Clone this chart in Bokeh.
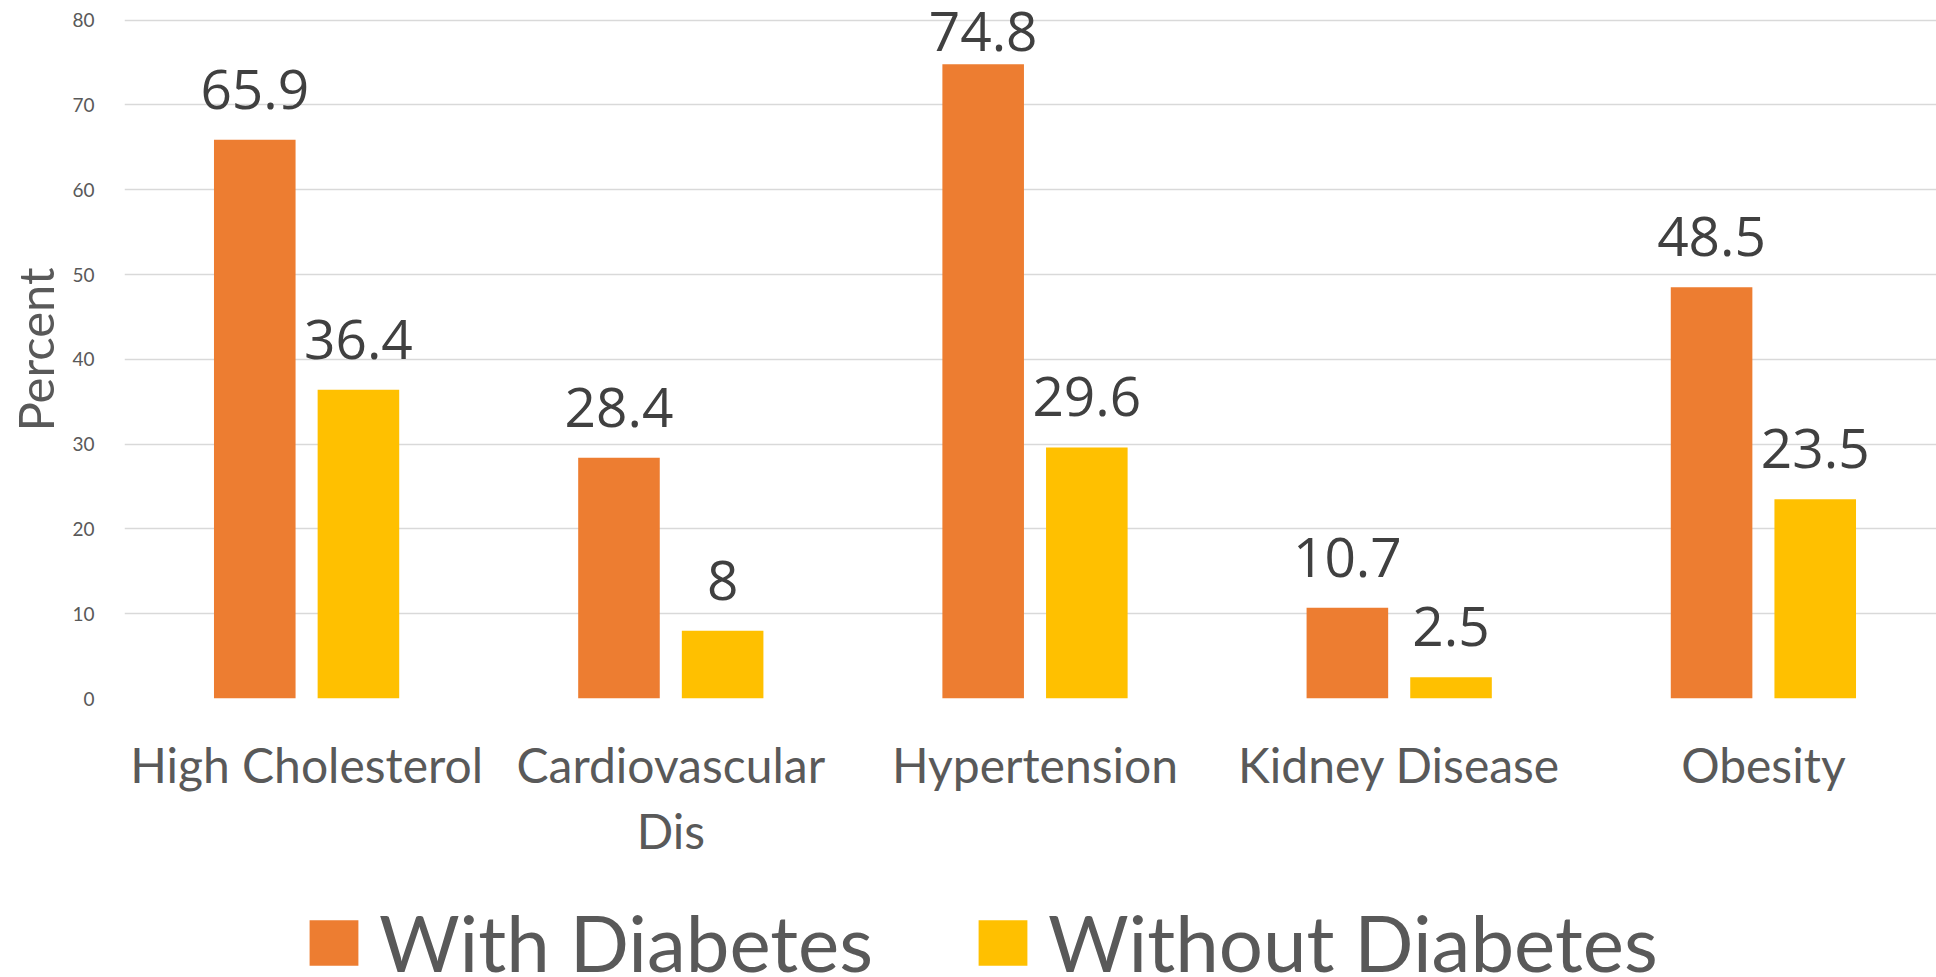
from bokeh.plotting import figure
from bokeh.layouts import column
from bokeh.models import (ColumnDataSource, Range1d, FixedTicker, LabelSet,
                          Legend, LegendItem)
from bokeh.core.properties import value
from bokeh.transform import dodge
from bokeh.embed import file_html
from bokeh.resources import INLINE

# ---- data ----
categories = ["High Cholesterol", "Cardiovascular Dis", "Hypertension",
              "Kidney Disease", "Obesity"]
category_labels = ["High Cholesterol", "Cardiovascular\nDis", "Hypertension",
                   "Kidney Disease", "Obesity"]
with_diabetes = [65.9, 28.4, 74.8, 10.7, 48.5]
without_diabetes = [36.4, 8, 29.6, 2.5, 23.5]
series_names = ["With Diabetes", "Without Diabetes"]
y_ticks = [0, 10, 20, 30, 40, 50, 60, 70, 80]

ORANGE = "#ED7D31"
YELLOW = "#FFC000"
GRAY = "#595959"
DARK = "#404040"

W = 1936
H1 = 870            # main chart
H2 = 107            # legend strip
FRAME_LEFT = 124
FRAME_H = 698
PX_PER_UNIT = 8.48
Y_END = FRAME_H / PX_PER_UNIT
CAT_PX = 364.2

x_end = (W - FRAME_LEFT) / CAT_PX
xs = [i + 0.5 for i in range(len(categories))]

def label_y(vals):
    # label baseline 31px above bar top, but kept inside the chart area
    top_limit = (FRAME_H - 50) / PX_PER_UNIT
    return [min(v + 31 / PX_PER_UNIT, top_limit) for v in vals]

src = ColumnDataSource(dict(
    x=xs,
    w=with_diabetes,
    wo=without_diabetes,
    w_lbl=[f"{v:g}" for v in with_diabetes],
    wo_lbl=[f"{v:g}" for v in without_diabetes],
    w_y=label_y(with_diabetes),
    wo_y=label_y(without_diabetes),
))

p = figure(width=W, height=H1, output_backend="svg", toolbar_location=None,
           x_range=Range1d(0, x_end), y_range=Range1d(0, Y_END),
           min_border_left=FRAME_LEFT, min_border_right=0,
           min_border_top=0, min_border_bottom=H1 - FRAME_H)
p.outline_line_color = None
p.background_fill_color = "white"
p.border_fill_color = "white"

off = 0.1423
bw = 0.224
p.vbar(x=dodge("x", -off), top="w", width=bw, source=src,
       fill_color=ORANGE, line_color=None)
p.vbar(x=dodge("x", off), top="wo", width=bw, source=src,
       fill_color=YELLOW, line_color=None)

for ycol, tcol, dx in [("w_y", "w_lbl", -off), ("wo_y", "wo_lbl", off)]:
    ls = LabelSet(x=dodge("x", dx), y=ycol, text=tcol, source=src,
                  text_align="center", text_baseline="alphabetic",
                  text_font=value("Open Sans"), text_font_size=value("55px"),
                  text_color=DARK)
    p.add_layout(ls)

# axes
p.xaxis.ticker = FixedTicker(ticks=xs)
p.xaxis.major_label_overrides = {x: lbl for x, lbl in zip(xs, category_labels)}
p.xaxis.axis_line_color = None
p.xaxis.major_tick_line_color = None
p.xaxis.minor_tick_line_color = None
p.xaxis.major_label_standoff = 31
p.xaxis.major_label_text_font = "Lato"
p.xaxis.major_label_text_font_size = "48px"
p.xaxis.major_label_text_color = GRAY
p.xaxis.major_label_text_line_height = 1.17

p.yaxis.ticker = FixedTicker(ticks=y_ticks)
p.yaxis.axis_line_color = None
p.yaxis.major_tick_line_color = None
p.yaxis.minor_tick_line_color = None
p.yaxis.major_label_standoff = 24
p.yaxis.major_label_text_font = "Lato"
p.yaxis.major_label_text_font_size = "19px"
p.yaxis.major_label_text_color = GRAY
p.yaxis.axis_label = "Percent"
p.yaxis.axis_label_text_font = "Lato"
p.yaxis.axis_label_text_font_size = "49px"
p.yaxis.axis_label_text_font_style = "normal"
p.yaxis.axis_label_text_color = GRAY
p.yaxis.axis_label_standoff = 5

p.xgrid.grid_line_color = None
p.ygrid.grid_line_color = "#D9D9D9"
p.ygrid.grid_line_width = 1.5

# ---- legend strip ----
p2 = figure(width=W, height=H2, output_backend="svg", toolbar_location=None,
            x_axis_type=None, y_axis_type=None,
            x_range=Range1d(0, 1), y_range=Range1d(0, 1),
            min_border=0)
p2.outline_line_color = None
p2.xgrid.grid_line_color = None
p2.ygrid.grid_line_color = None
# legend-only renderers (zero-height bars, nothing visible in the strip)
l1 = p2.vbar(x=[0.5], top=[0], width=0.1, fill_color=ORANGE, line_color=None)
l2 = p2.vbar(x=[0.5], top=[0], width=0.1, fill_color=YELLOW, line_color=None)
legend = Legend(items=[LegendItem(label=series_names[0], renderers=[l1], index=0),
                       LegendItem(label=series_names[1], renderers=[l2], index=0)],
                orientation="horizontal", location=(179, -12),
                border_line_color=None, background_fill_alpha=0,
                padding=0, margin=0, spacing=99,
                glyph_width=61, glyph_height=57, label_standoff=15,
                label_text_font="Lato", label_text_font_size="78px",
                label_text_color=GRAY)
p2.add_layout(legend, "center")

open("out.html", "w").write(file_html(column(p, p2), INLINE))
